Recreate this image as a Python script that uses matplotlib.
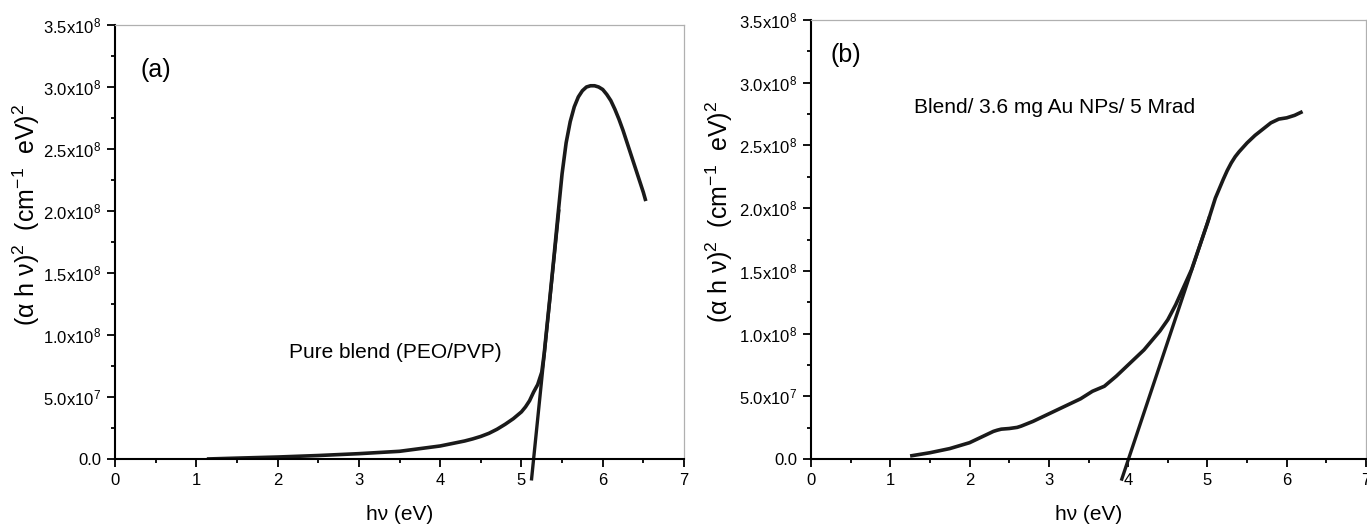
import matplotlib
matplotlib.use("Agg")
import matplotlib.pyplot as plt
from matplotlib.ticker import MultipleLocator, FixedLocator
import numpy as np

plt.rcParams['font.family'] = ['Liberation Sans', 'DejaVu Sans']
plt.rcParams['mathtext.fontset'] = 'custom'
plt.rcParams['mathtext.rm'] = 'Liberation Sans'
plt.rcParams['mathtext.it'] = 'Liberation Sans'
plt.rcParams['mathtext.bf'] = 'Liberation Sans'

# panel (a): pure blend (PEO/PVP)
hv_a = [1.13, 1.5, 2.0, 2.5, 3.0, 3.5, 4.0, 4.3, 4.4, 4.5, 4.6, 4.7, 4.8, 4.9,
        5.0, 5.05, 5.1, 5.15, 5.2, 5.25, 5.28, 5.3, 5.35, 5.4, 5.45, 5.5, 5.55,
        5.6, 5.65, 5.7, 5.75, 5.8, 5.85, 5.9, 5.95, 6.0, 6.05, 6.1, 6.15, 6.2,
        6.25, 6.3, 6.35, 6.4, 6.45, 6.5, 6.53]
y_a = [0.0, 0.7e6, 1.6e6, 2.8e6, 4.3e6, 6.2e6, 1.05e7, 1.45e7, 1.62e7, 1.82e7,
       2.07e7, 2.4e7, 2.8e7, 3.25e7, 3.8e7, 4.2e7, 4.7e7, 5.4e7, 6.0e7, 7.0e7,
       8.5e7, 9.8e7, 1.3e8, 1.63e8, 1.97e8, 2.3e8, 2.55e8, 2.72e8, 2.84e8,
       2.92e8, 2.97e8, 3.0e8, 3.01e8, 3.01e8, 3.0e8, 2.98e8, 2.94e8, 2.89e8,
       2.82e8, 2.74e8, 2.65e8, 2.55e8, 2.45e8, 2.35e8, 2.25e8, 2.15e8, 2.08e8]
tan_a_x = [5.125, 5.46]
tan_a_y = [-0.16e8, 2.0e8]

# panel (b): blend / 3.6 mg Au NPs / 5 Mrad
hv_b = [1.25, 1.5, 1.75, 2.0, 2.1, 2.2, 2.3, 2.35, 2.4, 2.5, 2.6, 2.65, 2.8,
        3.0, 3.2, 3.4, 3.55, 3.7, 3.85, 4.0, 4.2, 4.4, 4.5, 4.6, 4.8, 5.0, 5.1,
        5.2, 5.25, 5.3, 5.35, 5.4, 5.5, 5.6, 5.7, 5.8, 5.9, 6.0, 6.1, 6.2]
y_b = [0.24e7, 0.5e7, 0.83e7, 1.3e7, 1.6e7, 1.9e7, 2.2e7, 2.3e7, 2.38e7, 2.43e7,
       2.52e7, 2.62e7, 3.0e7, 3.6e7, 4.2e7, 4.8e7, 5.4e7, 5.8e7, 6.6e7, 7.5e7,
       8.7e7, 1.02e8, 1.11e8, 1.23e8, 1.51e8, 1.88e8, 2.08e8, 2.23e8, 2.3e8,
       2.36e8, 2.41e8, 2.45e8, 2.52e8, 2.58e8, 2.63e8, 2.68e8, 2.71e8, 2.72e8,
       2.74e8, 2.77e8]
tan_b_x = [3.92, 5.02]
tan_b_y = [-0.16e8, 1.92e8]

yticks = [0, 0.5e8, 1.0e8, 1.5e8, 2.0e8, 2.5e8, 3.0e8, 3.5e8]
ytick_labels = ['0.0', '5.0x10$^7$', '1.0x10$^8$', '1.5x10$^8$', '2.0x10$^8$',
                '2.5x10$^8$', '3.0x10$^8$', '3.5x10$^8$']

W, H = 1367, 525
fig = plt.figure(figsize=(W / 100, H / 100), dpi=100)
ax_a = fig.add_axes([115 / W, 1 - 459 / H, (684 - 115) / W, (459 - 25) / H])
ax_b = fig.add_axes([811 / W, 1 - 459 / H, (1366 - 811) / W, (459 - 20) / H])


def style(ax, label_x, label_y):
    ax.set_xlim(0, 7)
    ax.set_ylim(0, 3.5e8)
    ax.xaxis.set_major_locator(MultipleLocator(1))
    ax.xaxis.set_minor_locator(MultipleLocator(0.5))
    ax.yaxis.set_major_locator(FixedLocator(yticks))
    ax.yaxis.set_minor_locator(MultipleLocator(0.25e8))
    ax.set_yticklabels(ytick_labels)
    ax.tick_params(which='major', direction='out', length=6, width=1.3,
                   labelsize=12, pad=4, top=False, right=False)
    ax.tick_params(which='minor', direction='out', length=3, width=1.3,
                   top=False, right=False)
    for s in ['left', 'bottom']:
        ax.spines[s].set_linewidth(1.5)
    for s in ['top', 'right']:
        ax.spines[s].set_color('#b0b0b0')
        ax.spines[s].set_linewidth(0.9)
    ax.set_xlabel('h\u03bd (eV)', fontsize=15, labelpad=12)
    ax.set_ylabel('(\u03b1 h \u03bd)$^2$  (cm$^{-1}$  eV)$^2$', fontsize=18)
    ax.yaxis.set_label_coords(label_x, label_y)


style(ax_a, -0.128, 0.562)
ax_a.plot(hv_a, y_a, color='#1a1a1a', lw=2.6, solid_capstyle='butt')
ax_a.plot(tan_a_x, tan_a_y, color='#1a1a1a', lw=2.4, clip_on=False)
ax_a.text(0.31, 3.14e8, '(a)', fontsize=18, va='center')
ax_a.text(2.14, 0.86e8, 'Pure blend (PEO/PVP)', fontsize=15, va='center')

style(ax_b, -0.137, 0.563)
ax_b.plot(hv_b, y_b, color='#1a1a1a', lw=2.6, solid_capstyle='butt')
ax_b.plot(tan_b_x, tan_b_y, color='#1a1a1a', lw=2.4, clip_on=False)
ax_b.text(0.24, 3.22e8, '(b)', fontsize=18, va='center')
ax_b.text(1.30, 2.80e8, 'Blend/ 3.6 mg Au NPs/ 5 Mrad', fontsize=15, va='center')

fig.savefig('out.png', dpi=100)
